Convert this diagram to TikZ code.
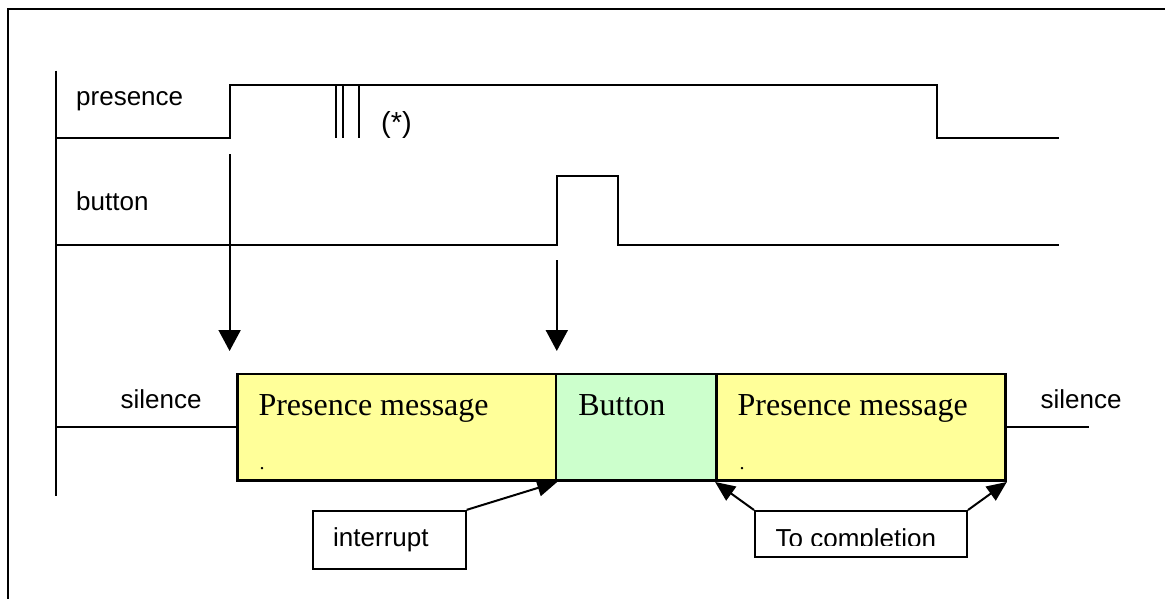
\documentclass[tikz,border=0pt]{standalone}
\usepackage{fontspec}
\setmainfont{Liberation Serif}
\newfontfamily\arialfont{Liberation Sans}
\usetikzlibrary{arrows.meta}
\definecolor{msgyellow}{HTML}{FFFF99}
\definecolor{btngreen}{HTML}{CCFFCC}

\begin{document}
\begin{tikzpicture}[x=1pt, y=-1pt,
    sig/.style={line width=2pt},
    lbl/.style={anchor=base west, inner sep=0pt, font=\arialfont\fontsize{26}{30}\selectfont},
    msg/.style={anchor=base west, inner sep=0pt, font=\fontsize{32}{38}\selectfont},
    slot/.style={draw, line width=2.5pt, minimum height=106.7pt, inner sep=0pt},
    note/.style={draw, line width=2pt, inner sep=0pt},
    hitarrow/.style={line width=2pt, -{Triangle[length=21pt, width=22pt]}},
    ptr/.style={line width=2pt, -{Triangle[length=20pt, width=17pt]}}]

    \useasboundingbox (0,0) rectangle (1165,599);
    \draw[line width=2.5pt] (8,599) -- (8,9) -- (1165,9);

    \draw[sig] (55.5,70.7) -- (55.5,495.7);

    \node[lbl] (presLbl) at (76,106) {presence};
    \node[lbl] (btnLbl) at (76,211) {button};

    \draw[sig] (55.5,138.3) -- (229.6,138.3) -- (229.6,85.3) -- (937,85.3) -- (937,138.3) -- (1058.5,138.3);
    \foreach \x in {335.6,343.3,358.6}
        \draw[sig] (\x,85.3) -- (\x,138.3);
    \node[lbl, font=\arialfont\fontsize{29}{34}\selectfont] (star) at (381,133) {(*)};

    \draw[sig] (55.5,245) -- (556.8,245) -- (556.8,176) -- (617.9,176) -- (617.9,245) -- (1058.5,245);

    \coordinate (riseA) at (229.6,154.3);
    \coordinate (hitA) at (229.6,351);
    \coordinate (riseB) at (556.8,260);
    \coordinate (hitB) at (556.8,351);
    \draw[hitarrow] (riseA) -- (hitA);
    \draw[hitarrow] (riseB) -- (hitB);

    \node[slot, fill=msgyellow, minimum width=318.7pt] (pmA) at (396.65,427.35) {};
    \node[slot, fill=btngreen, minimum width=160.3pt] (btn) at (636.15,427.35) {};
    \node[slot, fill=msgyellow, minimum width=289.3pt] (pmB) at (860.95,427.35) {};

    \node[msg] (pmAtxt) at (258.3,415) {Presence message};
    \node[msg] (btntxt) at (578.1,415) {Button};
    \node[msg] (pmBtxt) at (737.5,415) {Presence message};
    \node[msg, font=\fontsize{20}{24}\selectfont] (pmAdot) at (259.5,469) {.};
    \node[msg, font=\fontsize{20}{24}\selectfont] (pmBdot) at (739.5,469) {.};

    \coordinate (silL) at (55.5,427.35);
    \coordinate (silR) at (1088.6,427.35);
    \draw[sig] (silL) -- (pmA.west);
    \draw[sig] (pmB.east) -- (silR);
    \node[lbl] (silLtxt) at (120.5,408.3) {silence};
    \node[lbl] (silRtxt) at (1040.4,408.3) {silence};

    \node[note, minimum width=152.7pt, minimum height=58.3pt] (intr) at (389.35,540) {};
    \node[lbl] (intrtxt) at (333,546.7) {interrupt};

    \node[note, minimum width=212pt, minimum height=45.7pt] (compl) at (861,533.85) {};
    \begin{scope}
        \clip (755,511) rectangle (967,545.8);
        \node[lbl] (compltxt) at (775.5,547) {To completion};
    \end{scope}

    \draw[ptr] (intr.north east) -- (pmA.south east);
    \draw[ptr] (compl.north west) -- (pmB.south west);
    \draw[ptr] (compl.north east) -- (pmB.south east);
\end{tikzpicture}
\end{document}
